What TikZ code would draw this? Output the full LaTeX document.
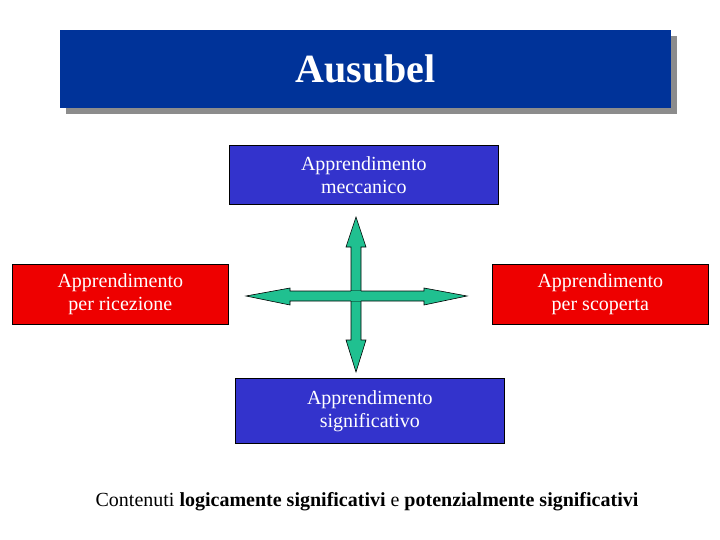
\documentclass[tikz,border=0pt]{standalone}
\usepackage{fontspec}
\setmainfont{Liberation Serif}
\begin{document}
\begin{tikzpicture}[x=1pt,y=-1pt,
  box/.style={draw=black,line width=0.6pt,inner sep=0pt,align=center,font=\fontsize{20}{23}\selectfont,text=white},
  arr/.style={fill=green!55!cyan!70!black!85,fill={rgb,255:red,32;green,192;blue,144},draw=black,line width=0.6pt,line join=miter}]
\useasboundingbox (0,0) rectangle (720,540);
\fill[gray!90] (66,36) rectangle (677,114);
\node[fill={rgb,255:red,0;green,51;blue,153},minimum width=611,minimum height=78,inner sep=0pt,anchor=north west,text=white,font=\fontsize{40}{44}\selectfont\bfseries] (title) at (60,30) {Ausubel};
\node[box,fill={rgb,255:red,51;green,51;blue,204},minimum width=269,minimum height=59,anchor=north west] (mec) at (229,145) {Apprendimento\\meccanico};
\node[box,fill={rgb,255:red,51;green,51;blue,204},minimum width=269,minimum height=65,anchor=north west] (sig) at (235,378) {Apprendimento\\significativo};
\node[box,fill={rgb,255:red,238;green,0;blue,0},minimum width=216,minimum height=60,anchor=north west] (ric) at (12,264) {Apprendimento\\per ricezione};
\node[box,fill={rgb,255:red,238;green,0;blue,0},minimum width=216,minimum height=60,anchor=north west] (sco) at (492,264) {Apprendimento\\per scoperta};
% vertical arrow
\draw[arr] (356,217) -- (366,247) -- (361,247) -- (361,340) -- (366,340) -- (356,372) -- (346,340) -- (351,340) -- (351,247) -- (346,247) -- cycle;
% horizontal arrow
\draw[arr] (246,296) -- (290,288) -- (290,291) -- (424,291) -- (424,288) -- (467,296) -- (424,305) -- (424,301) -- (290,301) -- (290,305) -- cycle;
\fill[arr,draw=none] (351.3,291.3) rectangle (360.7,300.7);
\node[font=\fontsize{20}{23}\selectfont] (txt) at (367,502) {Contenuti \textbf{logicamente significativi} e \textbf{potenzialmente significativi}};
\end{tikzpicture}
\end{document}
